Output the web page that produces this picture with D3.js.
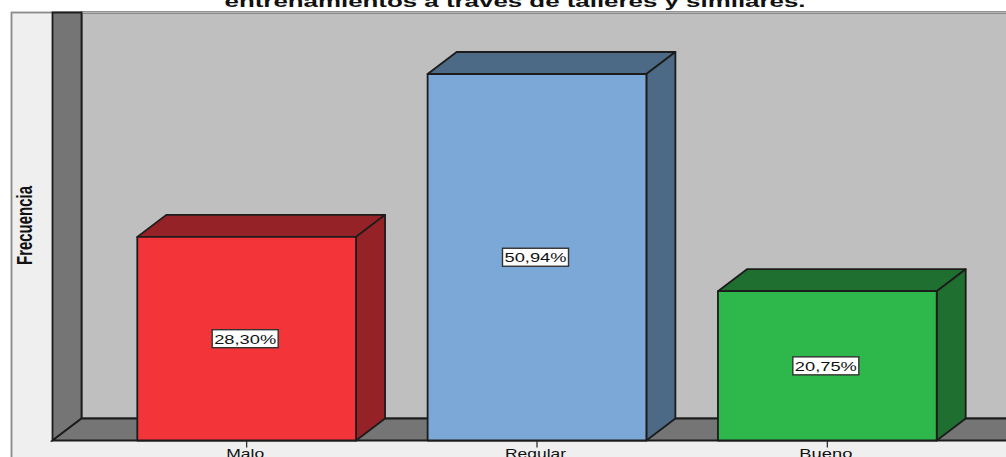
<!DOCTYPE html>
<html><head><meta charset="utf-8">
<script src="https://cdn.jsdelivr.net/npm/d3@7/dist/d3.min.js"></script>
<style>html,body{margin:0;padding:0;background:#fff;overflow:hidden}svg{display:block}</style>
</head><body><div id="c"></div>
<script>
const categories = ["Malo", "Regular", "Bueno"];
const percentages = [28.30, 50.94, 20.75];
const labels = ["28,30%", "50,94%", "20,75%"];
const frontColors = ["#f33539", "#7ba8d6", "#2eb84b"];
const sideColors = ["#942226", "#4c6a86", "#1e6f30"];
const titleText = "entrenamientos a través de talleres y similares.";
const yTitle = "Frecuencia";

const W = 1006, H = 457, baseY = 440.5, dx = 29, dy = 22, wallX = 52.5, topY = 12.5;
const svg = d3.select("#c").append("svg").attr("width", W).attr("height", H);
const x = d3.scaleBand().domain(categories).range([101, 973]).paddingInner(0.2465).paddingOuter(0.125);
const y = d3.scaleLinear().domain([0, 50.94]).range([baseY, 74]);
const ink = "#1c1c1c";
const sw = 1.8;

svg.append("rect").attr("x", 11.5).attr("y", topY).attr("width", W).attr("height", H).attr("fill", "#efefef").attr("stroke", "#8a8a8a").attr("stroke-width", 1.8);
svg.append("rect").attr("x", wallX + dx).attr("y", topY).attr("width", W).attr("height", baseY - dy - topY).attr("fill", "#bfbfbf").attr("stroke", ink).attr("stroke-width", sw);
svg.append("line").attr("x1", wallX + dx).attr("x2", W).attr("y1", topY).attr("y2", topY).attr("stroke", "#b5b5b5").attr("stroke-width", 1.5);
svg.append("path").attr("d", `M${wallX},${topY}H${wallX + dx}V${baseY - dy}L${wallX},${baseY}Z`).attr("fill", "#757575").attr("stroke", ink).attr("stroke-width", sw);
svg.append("path").attr("d", `M${wallX},${baseY}L${wallX + dx},${baseY - dy}H${W + 5}V${baseY}Z`).attr("fill", "#757575").attr("stroke", ink).attr("stroke-width", sw);

const bars = svg.selectAll("g.bar").data(categories).join("g").attr("class", "bar");
bars.each(function (c, i) {
  const g = d3.select(this), l = x(c), r = l + x.bandwidth(), t = y(percentages[i]);
  g.append("path").attr("d", `M${l},${t}L${l + dx},${t - dy}H${r + dx}L${r},${t}Z`).attr("fill", sideColors[i]);
  g.append("path").attr("d", `M${r},${t}L${r + dx},${t - dy}V${baseY - dy}L${r},${baseY}Z`).attr("fill", sideColors[i]);
  g.append("rect").attr("x", l).attr("y", t).attr("width", r - l).attr("height", baseY - t).attr("fill", frontColors[i]);
  g.selectAll("path,rect").attr("stroke", ink).attr("stroke-width", sw).attr("stroke-linejoin", "round");
  const cx = l + (r - l) / 2 - 1.5, cy = (t + baseY) / 2;
  g.append("rect").attr("x", cx - 33).attr("y", cy - 9).attr("width", 66).attr("height", 18).attr("fill", "#fff").attr("stroke", "#333").attr("stroke-width", 1.4);
  g.append("text").text(labels[i]).attr("x", cx).attr("y", cy + 5).attr("text-anchor", "middle")
    .attr("font-family", "Liberation Sans").attr("font-size", 13).attr("textLength", 62).attr("lengthAdjust", "spacingAndGlyphs").attr("fill", "#111");
});

const axis = d3.axisBottom(x).tickSize(7).tickPadding(3);
const ax = svg.append("g").attr("transform", `translate(0,${baseY})`).call(axis);
ax.select(".domain").remove();
ax.selectAll(".tick line").attr("stroke", "#222").attr("stroke-width", 1.2);
ax.selectAll(".tick text").attr("font-family", "Liberation Sans").attr("font-size", 13).attr("fill", "#111")
  .attr("dy", "0").attr("y", 17.5).attr("x", -1.5)
  .attr("textLength", (d, i) => [38, 61, 53][i]).attr("lengthAdjust", "spacingAndGlyphs");

svg.append("text").text(titleText).attr("x", 515).attr("y", 6.5).attr("text-anchor", "middle")
  .attr("font-family", "Liberation Sans").attr("font-weight", "bold").attr("font-size", 16).attr("fill", "#111")
  .attr("textLength", 581).attr("lengthAdjust", "spacingAndGlyphs");

svg.append("text").text(yTitle).attr("transform", "translate(31.5,265) rotate(-90)")
  .attr("font-family", "Liberation Sans").attr("font-weight", "bold").attr("font-size", 22).attr("fill", "#111")
  .attr("textLength", 79).attr("lengthAdjust", "spacingAndGlyphs");
</script></body></html>
